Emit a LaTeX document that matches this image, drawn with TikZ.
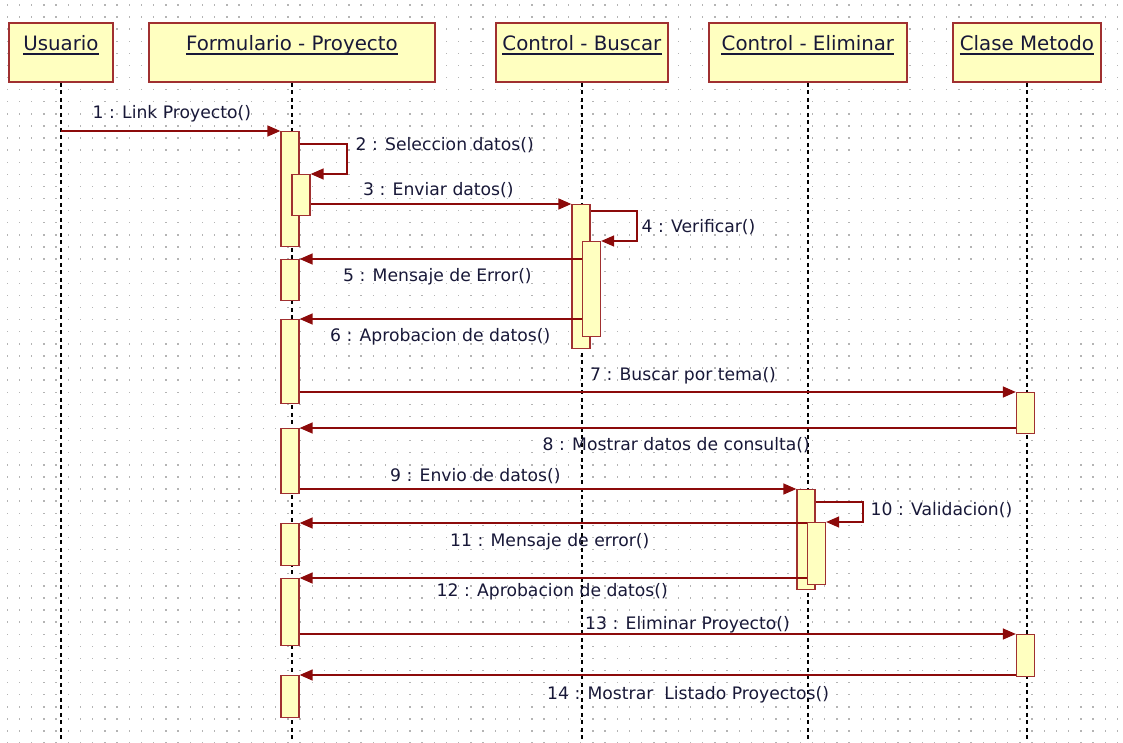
\documentclass[tikz,border=0pt]{standalone}
\usepackage{fontspec}
\setmainfont{DejaVu Sans}
\usetikzlibrary{arrows.meta}

\definecolor{boxfill}{RGB}{255,255,192}
\definecolor{boxline}{RGB}{160,48,48}
\definecolor{msgline}{RGB}{140,10,10}
\definecolor{inkc}{RGB}{24,24,56}
\definecolor{dotc}{RGB}{180,180,180}

\tikzset{
  objbox/.style={draw=boxline, fill=boxfill, line width=1.8pt, anchor=north west, inner sep=0pt},
  objtext/.style={text=inkc, font=\fontsize{19.8}{22}\selectfont, inner sep=0pt, anchor=base},
  uline/.style={draw=inkc, line width=1.5pt},
  lifeline/.style={draw=black, line width=1.5pt, dash pattern=on 4pt off 3.5pt},
  actbox/.style={draw=boxline, fill=boxfill, line width=1.3pt, minimum width=18pt, anchor=north, inner sep=0pt},
  msg/.style={draw=msgline, line width=1.4pt, -{Triangle[length=13pt,width=11pt]}},
  msglabel/.style={text=inkc, font=\fontsize{17.2}{20}\selectfont, inner sep=0pt, anchor=base west},
}

\begin{document}
\begin{tikzpicture}[x=1pt,y=-1pt]
\useasboundingbox (0,0) rectangle (1123,743);
\fill[white] (0,0) rectangle (1123,743);

% dotted drawing grid
\foreach \i in {0,...,91}{
  \foreach \j in {0,...,61}{
    \fill[dotc] ({7.3+12.2*\i-0.7},{5+12.1*\j-0.7}) rectangle ++(1.4,1.4);
  }
}

\coordinate (bottom) at (0,743);

% object heads
\node[objbox, minimum width=104pt, minimum height=59pt] (hU) at (8,22) {};
\node[objbox, minimum width=286pt, minimum height=59pt] (hF) at (148,22) {};
\node[objbox, minimum width=172pt, minimum height=59pt] (hB) at (495,22) {};
\node[objbox, minimum width=198pt, minimum height=59pt] (hE) at (708,22) {};
\node[objbox, minimum width=148pt, minimum height=59pt] (hC) at (952,22) {};

\node[objtext] (tU) at (hU.north |- 0,51) {Usuario};
\node[objtext] (tF) at (hF.north |- 0,51) {Formulario - Proyecto};
\node[objtext] (tB) at (hB.north |- 0,51) {Control - Buscar};
\node[objtext] (tE) at (hE.north |- 0,51) {Control - Eliminar};
\node[objtext] (tC) at (hC.north |- 0,51) {Clase Metodo};
\foreach \t in {tU,tF,tB,tE,tC}{
  \draw[uline] ([yshift=-3pt]\t.base west) -- ([yshift=-3pt]\t.base east);
}

% lifelines
\foreach \h in {hU,hF,hB,hE,hC}{
  \draw[lifeline] (\h.south) -- (\h.south |- bottom);
}

% activations: Formulario - Proyecto
\node[actbox, minimum height=115pt] (A1) at (290,131) {};
\node[actbox, minimum height=41pt]  (A2) at (301,174) {};
\node[actbox, minimum height=41pt]  (A3) at (290,259) {};
\node[actbox, minimum height=84pt]  (A4) at (290,319) {};
\node[actbox, minimum height=65pt]  (A5) at (290,428) {};
\node[actbox, minimum height=42pt]  (A6) at (290,523) {};
\node[actbox, minimum height=67pt]  (A7) at (290,578) {};
\node[actbox, minimum height=42pt]  (A8) at (290,675) {};
% activations: Control - Buscar
\node[actbox, minimum height=144pt] (B1) at (581,204) {};
\node[actbox, minimum height=95pt]  (B2) at (591.5,241) {};
% activations: Control - Eliminar
\node[actbox, minimum height=100pt] (E1) at (806,489) {};
\node[actbox, minimum height=62pt]  (E2) at (816.5,522) {};
% activations: Clase Metodo
\node[actbox, minimum height=41pt]  (C1) at (1025.5,392) {};
\node[actbox, minimum height=42pt]  (C2) at (1025.5,634) {};

% corners of the self calls
\coordinate (k2) at (347,144);
\coordinate (k4) at (637,211);
\coordinate (k10) at (863,502);

% messages
\draw[msg] (hU.south |- A1.north west) -- (A1.north west);
\draw[msg] (A1.east |- k2) -- (k2) |- (A2.north east);
\draw[msg] (A2.east |- B1.north west) -- (B1.north west);
\draw[msg] (B1.east |- k4) -- (k4) |- (B2.north east);
\draw[msg] (B2.west |- A3.north east) -- (A3.north east);
\draw[msg] (B2.west |- A4.north east) -- (A4.north east);
\draw[msg] (A4.east |- C1.north west) -- (C1.north west);
\draw[msg] (C1.west |- A5.north east) -- (A5.north east);
\draw[msg] (A5.east |- E1.north west) -- (E1.north west);
\draw[msg] (E1.east |- k10) -- (k10) |- (E2.north east);
\draw[msg] (E2.west |- A6.north east) -- (A6.north east);
\draw[msg] (E2.west |- A7.north east) -- (A7.north east);
\draw[msg] (A7.east |- C2.north west) -- (C2.north west);
\draw[msg] (C2.west |- A8.north east) -- (A8.north east);

% message labels
\node[msglabel] (l1)  at (92.5,118.3) {1 : Link Proyecto()};
\node[msglabel] (l2)  at (355.5,151)  {2 : Seleccion datos()};
\node[msglabel] (l3)  at (363,196)    {3 : Enviar datos()};
\node[msglabel] (l4)  at (641.5,232.5) {4 : Verificar()};
\node[msglabel] (l5)  at (343,281.5)  {5 : Mensaje de Error()};
\node[msglabel] (l6)  at (330,341.5)  {6 : Aprobacion de datos()};
\node[msglabel] (l7)  at (590,380.5)  {7 : Buscar por tema()};
\node[msglabel] (l8)  at (542.5,450.5) {8 : Mostrar datos de consulta()};
\node[msglabel] (l9)  at (390,481.5)  {9 : Envio de datos()};
\node[msglabel] (l10) at (870.5,515)  {10 : Validacion()};
\node[msglabel] (l11) at (450,546.5)  {11 : Mensaje de error()};
\node[msglabel] (l12) at (436.5,596)  {12 : Aprobacion de datos()};
\node[msglabel] (l13) at (585,629.3)  {13 : Eliminar Proyecto()};
\node[msglabel] (l14) at (547,699.3)  {14 : Mostrar\ \ Listado Proyectos()};
\end{tikzpicture}
\end{document}
